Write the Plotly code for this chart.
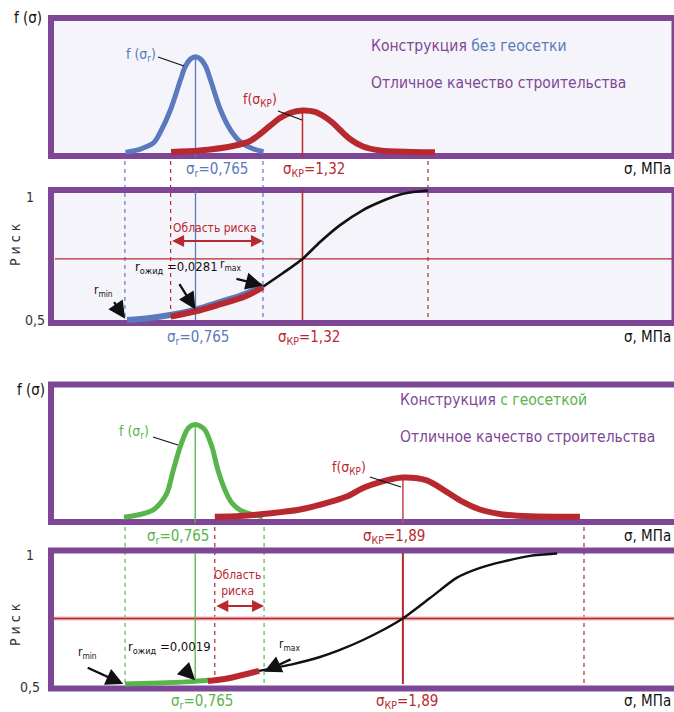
import plotly.graph_objects as go

# ---------------- data ----------------
sig_r = 0.765          # design stress, MPa
sig_kp_plain = 1.32    # critical stress without geogrid, MPa
sig_kp_grid = 1.89     # critical stress with geogrid, MPa
r_exp_plain = "0,0281"
r_exp_grid = "0,0019"

# without geogrid: density of acting stress f(σr)
fr_plain_x = [0.402, 0.480, 0.547, 0.583, 0.635, 0.687, 0.713, 0.739, 0.765, 0.791, 0.817, 0.843, 0.895, 0.947, 0.998, 1.066, 1.118]
fr_plain_y = [0.005, 0.030, 0.076, 0.159, 0.326, 0.553, 0.659, 0.712, 0.730, 0.712, 0.659, 0.553, 0.326, 0.174, 0.085, 0.030, 0.010]
# without geogrid: density of critical stress f(σКР)
fk_plain_x = [0.638, 0.788, 0.960, 1.048, 1.100, 1.151, 1.203, 1.255, 1.320, 1.385, 1.436, 1.478, 1.515, 1.566, 1.634, 1.722, 1.893, 2.007]
fk_plain_y = [0.008, 0.019, 0.053, 0.091, 0.144, 0.205, 0.265, 0.303, 0.322, 0.311, 0.273, 0.227, 0.174, 0.106, 0.049, 0.019, 0.008, 0.005]

# with geogrid
fr_grid_x = [0.379, 0.466, 0.536, 0.574, 0.612, 0.645, 0.683, 0.720, 0.742, 0.765, 0.791, 0.818, 0.856, 0.888, 0.926, 0.964, 1.008, 1.062, 1.132]
fr_grid_y = [0.013, 0.034, 0.068, 0.117, 0.197, 0.364, 0.545, 0.674, 0.705, 0.716, 0.705, 0.674, 0.545, 0.371, 0.220, 0.121, 0.068, 0.038, 0.017]
fk_grid_x = [0.871, 1.008, 1.132, 1.333, 1.511, 1.586, 1.674, 1.766, 1.889, 2.019, 2.127, 2.215, 2.307, 2.431, 2.579, 2.849]
fk_grid_y = [0.017, 0.023, 0.038, 0.072, 0.136, 0.170, 0.235, 0.280, 0.314, 0.292, 0.205, 0.129, 0.072, 0.034, 0.020, 0.017]

# risk curves, without geogrid
risk_plain_lo_x = [0.410, 0.529, 0.633, 0.765, 0.892, 1.022, 1.115]
risk_plain_lo_y = [0.500, 0.508, 0.519, 0.540, 0.569, 0.600, 0.632]
risk_plain_zone_x = [0.636, 0.765, 0.892, 1.022, 1.115]
risk_plain_zone_y = [0.513, 0.533, 0.560, 0.590, 0.626]
risk_plain_x = [1.115, 1.219, 1.320, 1.411, 1.515, 1.634, 1.722, 1.810, 1.893, 1.971]
risk_plain_y = [0.628, 0.681, 0.735, 0.800, 0.865, 0.923, 0.954, 0.979, 0.992, 0.998]
risk_level_plain = 0.735

# risk curves, with geogrid
risk_grid_lo_x = [0.385, 0.574, 0.765, 0.845]
risk_grid_lo_y = [0.500, 0.504, 0.510, 0.515]
risk_grid_zone_x = [0.834, 0.953, 1.111]
risk_grid_zone_y = [0.511, 0.523, 0.550]
risk_grid_x = [1.111, 1.295, 1.441, 1.549, 1.674, 1.782, 1.889, 2.037, 2.181, 2.308, 2.432, 2.579, 2.725]
risk_grid_y = [0.550, 0.576, 0.603, 0.630, 0.668, 0.706, 0.750, 0.828, 0.905, 0.943, 0.967, 0.989, 0.998]
risk_level_grid = 0.75

# interval bounds carried down between the panels
bounds_plain = [0.399, 0.636, 1.115, 1.971]
bounds_grid = [0.385, 0.871, 1.138, 2.871]
risk_span_plain = [0.636, 1.115]
risk_span_grid = [0.871, 1.138]

# ---------------- style ----------------
W, H = 674, 712
PURPLE = "#7E4795"
LAVENDER = "#F5F4FA"
BLUE = "#5B79BD"
RED = "#B8282F"
GREEN = "#57B54B"
BLACK = "#111111"
FONT = "Liberation Sans Narrow, DejaVu Sans Condensed, Roboto, sans-serif"


def px(x):
    return x / W


def py(y):
    return 1 - y / H


fig = go.Figure()

ax_plain = dict(domain=[px(48), 1], range=[0, 3.247], visible=False)
ax_grid = dict(domain=[px(48), 1], range=[-0.0325, 3.3586], visible=False)
fig.update_layout(
    width=W, height=H, margin=dict(l=0, r=0, t=0, b=0),
    paper_bgcolor="white", plot_bgcolor="rgba(0,0,0,0)", showlegend=False,
    xaxis=dict(ax_plain, anchor="y"),
    yaxis=dict(domain=[py(159), py(15)], range=[-0.04545, 1.04545], visible=False, anchor="x"),
    xaxis2=dict(ax_plain, anchor="y2"),
    yaxis2=dict(domain=[py(327), py(187)], range=[0.4731, 1.01154], visible=False, anchor="x2"),
    xaxis3=dict(ax_grid, anchor="y3"),
    yaxis3=dict(domain=[py(525), py(382)], range=[-0.04545, 1.0379], visible=False, anchor="x3"),
    xaxis4=dict(ax_grid, anchor="y4"),
    yaxis4=dict(domain=[py(692), py(547)], range=[0.46947, 1.0229], visible=False, anchor="x4"),
)

shapes = []
# panel backgrounds
for top, bot, fill in [(15, 159, LAVENDER), (187, 326, LAVENDER), (381.5, 525, "white"), (547.5, 691.5, "white")]:
    shapes.append(dict(type="rect", xref="paper", yref="paper", x0=px(48), x1=1.01,
                       y0=py(bot), y1=py(top), fillcolor=fill, line=dict(width=0), layer="below"))

# dashed bounds running between panels
for i, (b, c) in enumerate(zip(bounds_plain, [BLUE, RED, BLUE, RED])):
    y_end = [320, 314, 320, 323][i]
    shapes.append(dict(type="line", xref="x2", yref="paper", x0=b, x1=b, y0=py(161), y1=py(y_end),
                       line=dict(color=c, width=1.2, dash="4px,4px"), layer="below"))
for i, (b, c) in enumerate(zip(bounds_grid, [GREEN, RED, GREEN, RED])):
    y_end = [686, 676, 686, 690][i]
    shapes.append(dict(type="line", xref="x4", yref="paper", x0=b, x1=b, y0=py(527), y1=py(y_end),
                       line=dict(color=c, width=1.2, dash="4px,4px"), layer="below"))

# frames
for top, bot, right in [(15, 159, 674.5), (187, 326, 674.5), (381.5, 525, 690), (547.5, 691.5, 690)]:
    shapes.append(dict(type="rect", xref="paper", yref="paper", x0=px(51), x1=px(right),
                       y0=py(bot - 3), y1=py(top + 3), fillcolor="rgba(0,0,0,0)",
                       line=dict(color=PURPLE, width=6), layer="below"))

# leader lines from labels to curves
for (x0, y0, x1, y1) in [(158, 57, 184, 66), (278, 111, 302, 120), (153, 437, 178, 445), (370, 477, 401, 487)]:
    shapes.append(dict(type="line", xref="paper", yref="paper", x0=px(x0), y0=py(y0), x1=px(x1), y1=py(y1),
                       line=dict(color=BLACK, width=1.2)))

fig.update_layout(shapes=shapes)


def add_line(xs, ys, color, width, n, shape="spline", smoothing=0.9):
    fig.add_trace(go.Scatter(x=xs, y=ys, mode="lines",
                             line=dict(color=color, width=width, shape=shape, smoothing=smoothing),
                             xaxis="x" if n == 1 else f"x{n}", yaxis="y" if n == 1 else f"y{n}",
                             hoverinfo="skip"))


# panel 1 — distributions without geogrid
add_line([sig_r, sig_r], [-0.03, max(fr_plain_y)], BLUE, 1.3, 1, "linear")
add_line([sig_kp_plain, sig_kp_plain], [-0.03, max(fk_plain_y)], RED, 1.5, 1, "linear")
add_line(fr_plain_x, fr_plain_y, BLUE, 5, 1)
add_line(fk_plain_x, fk_plain_y, RED, 6, 1)

# panel 2 — risk without geogrid
add_line([0.036, 3.247], [risk_level_plain, risk_level_plain], RED, 1.3, 2, "linear")
add_line([sig_r, sig_r], [0.5, 1.0], BLUE, 1.3, 2, "linear")
add_line([sig_kp_plain, sig_kp_plain], [0.5, 1.0], RED, 1.6, 2, "linear")
add_line(risk_plain_x, risk_plain_y, BLACK, 2.6, 2, smoothing=0.7)
add_line(risk_plain_lo_x, risk_plain_lo_y, BLUE, 6, 2)
add_line(risk_plain_zone_x, risk_plain_zone_y, RED, 6, 2)

# panel 3 — distributions with geogrid
add_line([sig_r, sig_r], [-0.03, max(fr_grid_y)], GREEN, 1.3, 3, "linear")
add_line([sig_kp_grid, sig_kp_grid], [-0.03, max(fk_grid_y)], "#C4525A", 1.6, 3, "linear")
add_line(fr_grid_x, fr_grid_y, GREEN, 5, 3)
add_line(fk_grid_x, fk_grid_y, RED, 6, 3)

# panel 4 — risk with geogrid
add_line([0.0, 3.3586], [risk_level_grid, risk_level_grid], "#EDB5B8", 4, 4, "linear")
add_line([0.0, 3.3586], [risk_level_grid, risk_level_grid], RED, 1.5, 4, "linear")
add_line([sig_r, sig_r], [risk_grid_lo_y[2], 1.0], GREEN, 1.3, 4, "linear")
add_line([sig_kp_grid, sig_kp_grid], [0.5, 1.0], RED, 2, 4, "linear")
add_line(risk_grid_x, risk_grid_y, BLACK, 2.4, 4, smoothing=0.7)
add_line(risk_grid_lo_x, risk_grid_lo_y, GREEN, 5, 4)
add_line(risk_grid_zone_x, risk_grid_zone_y, RED, 6, 4)

ann = []


def text(x, y, s, color=BLACK, size=16, xanchor="center", yanchor="middle", angle=0):
    ann.append(dict(xref="paper", yref="paper", x=px(x), y=py(y), text=s, showarrow=False,
                    xanchor=xanchor, yanchor=yanchor, textangle=angle,
                    font=dict(family=FONT, size=size, color=color)))


def arrow(n, x, y, ax, ay, color=BLACK):
    ann.append(dict(xref=f"x{n}", yref=f"y{n}", x=x, y=y, ax=ax, ay=ay, text="", showarrow=True,
                    arrowhead=2, arrowsize=1.5, arrowwidth=2.3, arrowcolor=color))


def span_arrow(n, x0, x1, y):
    ann.append(dict(xref=f"x{n}", yref=f"y{n}", x=x1, y=y, axref=f"x{n}", ayref=f"y{n}", ax=x0, ay=y,
                    text="", showarrow=True, arrowhead=2, startarrowhead=2, arrowside="end+start",
                    arrowsize=1.2, startarrowsize=1.2, arrowwidth=2, arrowcolor=RED))


kp = "σ<sub>КР</sub>"
sr = "σ<sub>r</sub>"
TITLE = 15.5
SIG = 15

# panel 1 labels
text(12, 18, "f (σ)", size=15, xanchor="left")
text(369, 46, f"Конструкция <span style='color:{BLUE}'>без геосетки</span>", PURPLE, TITLE, "left")
text(369, 83, "Отличное качество строительства", PURPLE, TITLE, "left")
text(158, 55, f"f ({sr})", BLUE, 14, "right")
text(279, 100, f"f({kp})", RED, 14, "right")
text(217, 170, f"{sr}=0,765", BLUE, SIG)
text(314, 170, f"{kp}=1,32", RED, SIG)
text(673, 169, "σ, МПа", BLACK, 15, "right")

# panel 2 labels
text(30, 197, "1", "#333333", 14)
text(35, 320, "0,5", "#333333", 14)
text(15, 245, "Р и с к", "#333333", 14, angle=-90)
text(215, 228, "Область риска", RED, 12)
text(133, 267, f"r<sub>ожид</sub> ={r_exp_plain}", BLACK, 13, "left")
text(218, 265, "r<sub>max</sub>", BLACK, 12, "left")
text(92, 291, "r<sub>min</sub>", BLACK, 12, "left")
text(198, 337, f"{sr}=0,765", BLUE, SIG)
text(309, 337, f"{kp}=1,32", RED, SIG)
text(673, 337, "σ, МПа", BLACK, 15, "right")
span_arrow(2, risk_span_plain[0], risk_span_plain[1], 0.804)
arrow(2, sig_r, 0.540, -17, -27)
arrow(2, risk_plain_x[0], 0.633, -28, -7)
arrow(2, risk_plain_lo_x[0] - 0.01, 0.505, -12, -18)

# panel 3 labels
text(15, 390, "f (σ)", size=15, xanchor="left")
text(398, 400, f"Конструкция <span style='color:{GREEN}'>с геосеткой</span>", PURPLE, TITLE, "left")
text(398, 437, "Отличное качество строительства", PURPLE, TITLE, "left")
text(151, 432, f"f ({sr})", GREEN, 14, "right")
text(368, 468, f"f({kp})", RED, 14, "right")
text(178, 536, f"{sr}=0,765", GREEN, SIG)
text(394, 536, f"{kp}=1,89", RED, SIG)
text(673, 536, "σ, МПа", BLACK, 15, "right")

# panel 4 labels
text(30, 555, "1", "#333333", 14)
text(30, 687, "0,5", "#333333", 14)
text(15, 625, "Р и с к", "#333333", 14, angle=-90)
text(237, 583, "Область<br>риска", RED, 12)
text(126, 647, f"r<sub>ожид</sub> ={r_exp_grid}", BLACK, 13, "left")
text(277, 645, "r<sub>max</sub>", BLACK, 12, "left")
text(76, 653, "r<sub>min</sub>", BLACK, 12, "left")
text(202, 701, f"{sr}=0,765", GREEN, SIG)
text(407, 701, f"{kp}=1,89", RED, SIG)
text(673, 701, "σ, МПа", BLACK, 15, "right")
span_arrow(4, risk_span_grid[0], risk_span_grid[1], 0.798)
arrow(4, sig_r, risk_grid_lo_y[2] + 0.004, -13, -13)
arrow(4, 1.138, 0.547, 28, -13)
arrow(4, risk_grid_lo_x[0] - 0.01, 0.5, -37, -17)

fig.update_layout(annotations=ann)
fig.write_html("out.html")
